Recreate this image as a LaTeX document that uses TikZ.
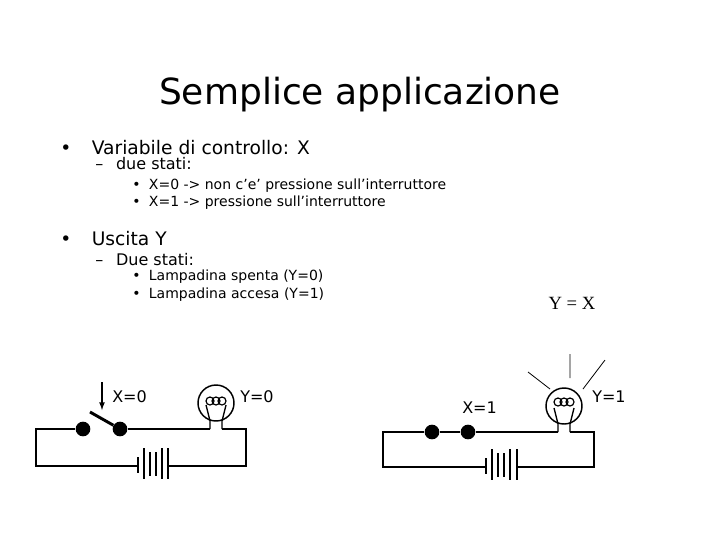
\documentclass[tikz,border=0pt]{standalone}
\usepackage{fontspec}
\setmainfont{DejaVu Sans}
\newfontfamily\serifx{Liberation Serif}
\tikzset{w/.style={line width=1.3pt},dot/.style={circle,fill=black,inner sep=0pt,minimum size=11pt},
t/.style={anchor=west,inner sep=0pt},lab/.style={anchor=west,inner sep=0pt,font=\fontsize{12}{14}\selectfont}}
\begin{document}
\begin{tikzpicture}[x=0.75pt,y=-0.75pt]
\useasboundingbox (0,0) rectangle (720,540);
\node (title) at (360,95) {\fontsize{27}{30}\selectfont Semplice applicazione};
\node[t] (b1) at (60,148) {\fontsize{14}{16}\selectfont •\hspace{1.1em}Variabile di controllo: X};
\node[t] (b1a) at (95,164) {\fontsize{12}{14}\selectfont –\hspace{0.8em}due stati:};
\node[t] (b1b) at (132,186) {\fontsize{10.5}{12}\selectfont •\hspace{0.6em}X=0 -> non c’e’ pressione sull’interruttore};
\node[t] (b1c) at (132,203) {\fontsize{10.5}{12}\selectfont •\hspace{0.6em}X=1 -> pressione sull’interruttore};
\node[t] (b2) at (60,239) {\fontsize{14}{16}\selectfont •\hspace{1.1em}Uscita Y};
\node[t] (b2a) at (95,260) {\fontsize{12}{14}\selectfont –\hspace{0.8em}Due stati:};
\node[t] (b2b) at (132,277) {\fontsize{10.5}{12}\selectfont •\hspace{0.6em}Lampadina spenta (Y=0)};
\node[t] (b2c) at (132,295) {\fontsize{10.5}{12}\selectfont •\hspace{0.6em}Lampadina accesa (Y=1)};
\node (yx) at (572,303) {\serifx\fontsize{14}{16}\selectfont Y = X};
% left circuit
\node[dot] (s1) at (83,429) {};
\node[dot] (s2) at (120,429) {};
\coordinate (lv) at (90,412);
\draw[line width=2.2pt] (lv) -- (s2);
\coordinate (a1) at (102,382); \coordinate (a2) at (102,410);
\draw[-latex,line width=1pt] (a1) -- (a2);
\node[lab] (x0) at (112,397) {X=0};
\node[lab] (y0) at (240,397) {Y=0};
\draw[w] (138,466) -- (36,466) -- (36,429) -- (s1);
\draw[w] (s2) -- (210,429) (222,429) -- (246,429) -- (246,466) -- (168,466);
\foreach \xx/\h in {138/9,144/18,150/14,156/14,162/18,168/18}
  \draw[line width=1.3pt] (\xx,466-\h) -- (\xx,466+\h*0.6+2);
\draw[line width=1.1pt] (216,403) circle (18);
\draw[line width=1pt] (210,429) -- (210,421) -- (206,405) (222,429) -- (222,421) -- (226,405);
\foreach \xx in {210,216,222} \draw[line width=0.9pt] (\xx,401) circle (4);
% right circuit
\node[dot] (r1) at (432,432) {};
\node[dot] (r2) at (468,432) {};
\draw[line width=2.2pt] (r1) -- (r2);
\node[lab] (x1) at (462,408) {X=1};
\node[lab] (y1) at (592,397) {Y=1};
\draw[w] (486,467) -- (383,467) -- (383,432) -- (r1);
\draw[w] (r2) -- (558,432) (570,432) -- (594,432) -- (594,467) -- (517,467);
\foreach \xx/\h in {486/9,492/18,498/14,504/14,510/18,517/18}
  \draw[line width=1.3pt] (\xx,467-\h) -- (\xx,467+\h*0.6+2);
\draw[line width=1.1pt] (564,406) circle (18);
\draw[line width=1pt] (558,432) -- (558,424) -- (554,408) (570,432) -- (570,424) -- (574,408);
\foreach \xx in {558,564,570} \draw[line width=0.9pt] (\xx,402) circle (4);
\draw[line width=0.6pt] (570,354) -- (570,378) (528,372) -- (550,389) (605,360) -- (583,389);
\end{tikzpicture}
\end{document}
